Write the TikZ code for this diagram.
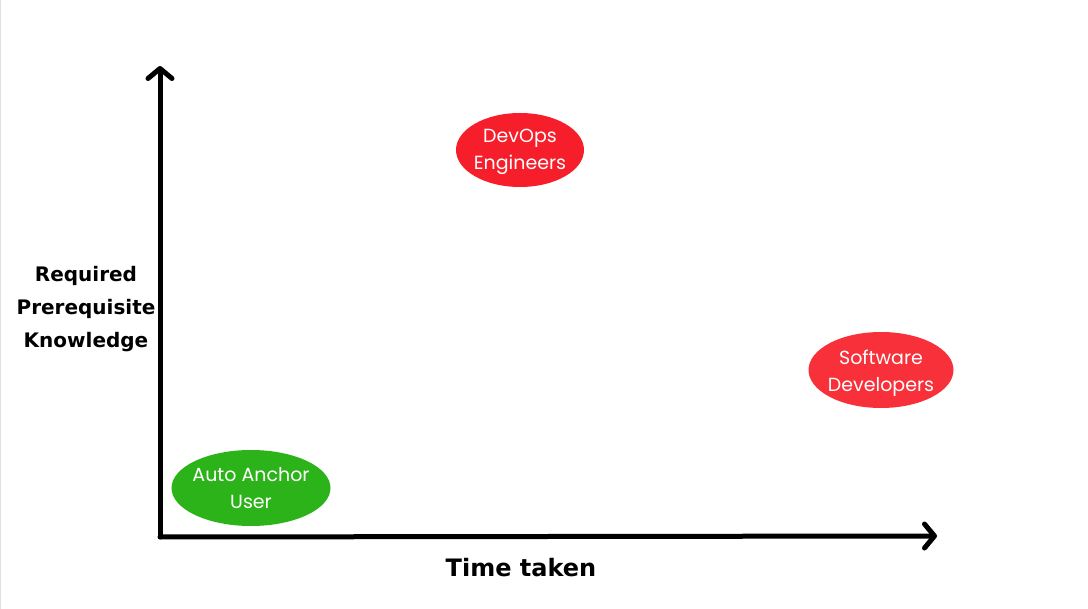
\documentclass[tikz,border=0pt]{standalone}
\usepackage{fontspec}
\setmainfont{Poppins}
\newfontfamily\labelfont{DejaVu Sans}
\usetikzlibrary{arrows.meta,shapes.geometric}
\definecolor{redA}{HTML}{F61E2B}
\definecolor{redB}{HTML}{F8303A}
\definecolor{greenA}{HTML}{2DB31A}
\tikzset{
  axis/.style={line width=5pt, line cap=round, line join=round,
    -{Straight Barb[length=10pt,width=24pt,line cap=round,line join=round]}},
  blob/.style={ellipse, inner sep=0pt},
  blobtext/.style={text=white, align=center, inner sep=0pt,
    font=\fontsize{19}{27}\selectfont},
  axlabel/.style={align=center, font=\labelfont\bfseries\fontsize{20}{33}\selectfont}
}
\begin{document}
\begin{tikzpicture}[x=1pt,y=-1pt]
\useasboundingbox (0,0) rectangle (1088,609);
\fill[white] (0,0) rectangle (1088,609);
\draw[gray!25, line width=1pt] (0.5,0) -- (0.5,609);
\coordinate (O) at (160,537);
\coordinate (ytop) at (160,66);
\coordinate (xend) at (937,536);
\draw[axis] (O) -- (ytop);
\draw[axis] (O) -- (xend);
\node[blob, fill=redA, minimum width=128pt, minimum height=74pt] (devops) at (520,150) {};
\node[blobtext] (devopsT) at ([yshift=-2pt]devops.center) {DevOps\\Engineers};
\node[blob, fill=redB, minimum width=145pt, minimum height=76pt] (soft) at (881,370) {};
\node[blobtext] (softT) at ([yshift=-3pt]soft.center) {Software\\Developers};
\node[blob, fill=greenA, minimum width=159pt, minimum height=76pt] (auto) at (251,488) {};
\node[blobtext] (autoT) at ([yshift=0pt]auto.center) {Auto Anchor\\User};
\node[axlabel] (ylab) at (86,309) {Required\\Prerequisite\\Knowledge};
\node[axlabel, font=\labelfont\bfseries\fontsize{24}{30}\selectfont] (xlab) at (521,568) {Time taken};
\end{tikzpicture}
\end{document}
